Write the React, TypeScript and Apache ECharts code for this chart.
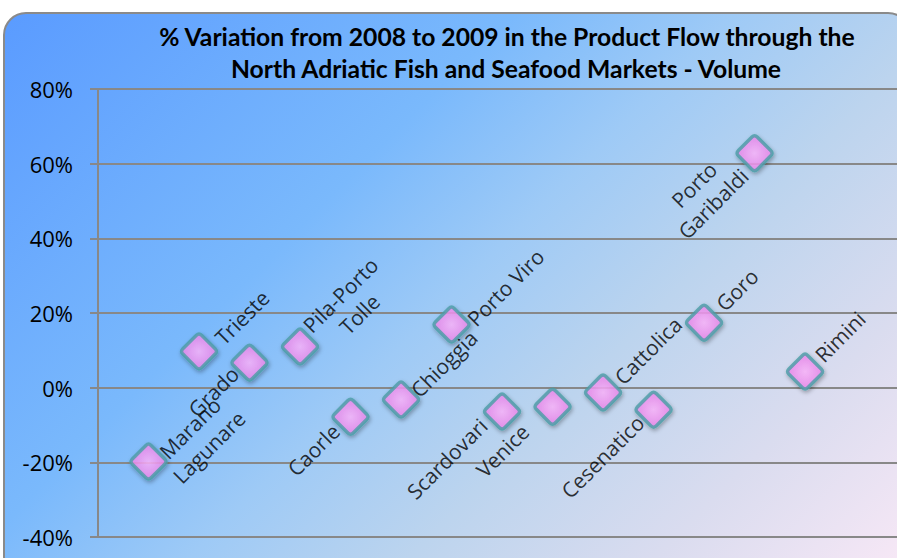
import React, { useEffect, useRef } from "react";
import * as echarts from "echarts";

// ---- data ----
const markets: string[] = [
  "Marano\nLagunare",
  "Trieste",
  "Grado",
  "Pila-Porto\nTolle",
  "Caorle",
  "Chioggia",
  "Porto Viro",
  "Scardovari",
  "Venice",
  "Cattolica",
  "Cesenatico",
  "Goro",
  "Porto\nGaribaldi",
  "Rimini",
];
const variationPct: number[] = [
  -19.8, 9.7, 6.7, 11.0, -7.8, -3.2, 16.9, -6.4, -5.1, -1.3, -5.9, 17.4, 62.8, 4.3,
];
const yMin = -40;
const yMax = 80;
const yInterval = 20;
const titleLines: string[] = [
  "% Variation from 2008 to 2009 in the Product Flow through the",
  "North Adriatic Fish and Seafood Markets - Volume",
];

// ---- label placement (screen px from marker centre to label block centre) ----
const labelNudges: [number, number][] = [
  [51, -24], [43, -34], [-36, 29], [50, -42], [-37, 33], [43, -36], [54, -37],
  [-55, 47], [-50, 44], [45, -42], [-51, 47], [33, -33], [-51, 41], [35, -35],
];

const DIAMOND =
  "path://M43,7 Q50,0 57,7 L93,43 Q100,50 93,57 L57,93 Q50,100 43,93 L7,57 Q0,50 7,43 Z";

export default function App() {
  const ref = useRef<HTMLDivElement>(null);

  useEffect(() => {
    if (!ref.current) return;
    const chart = echarts.init(ref.current, undefined, { renderer: "svg" });
    const s = Math.SQRT1_2;
    const data = variationPct.map((v, i) => {
      const [dx, dy] = labelNudges[i];
      const u = (dx - dy) * s;
      const w = (dx + dy) * s;
      return {
        name: markets[i],
        value: [i + 1, v],
        label: { offset: [u, w] },
      };
    });

    const titleStyle = {
      font: "bold 24.7px Lato",
      fill: "#000",
      align: "center",
      verticalAlign: "middle",
    };

    chart.setOption({
      animation: false,
      graphic: [
        {
          type: "rect",
          z: -100,
          silent: true,
          shape: { x: 4, y: 13, width: 906, height: 565, r: 22 },
          style: {
            fill: new echarts.graphic.LinearGradient(
              4, 13, 734, 743,
              [
                { offset: 0, color: "#5a9bff" },
                { offset: 0.35, color: "#7ab9fc" },
                { offset: 0.5, color: "#9ecaf6" },
                { offset: 0.65, color: "#bcd4ee" },
                { offset: 0.82, color: "#dadcef" },
                { offset: 1, color: "#f8e8f6" },
              ],
              true
            ),
            stroke: "#8a8a8a",
            lineWidth: 2,
          },
        },
        {
          type: "text",
          x: 507,
          y: 36,
          z: 10,
          style: { ...titleStyle, text: titleLines[0] },
        },
        {
          type: "text",
          x: 506,
          y: 68,
          z: 10,
          style: { ...titleStyle, text: titleLines[1] },
        },
      ],
      grid: { left: 98, top: 89, width: 799, height: 448, containLabel: false },
      xAxis: {
        type: "value",
        min: 0,
        max: 15.82,
        show: false,
      },
      yAxis: {
        type: "value",
        min: yMin,
        max: yMax,
        interval: yInterval,
        axisLine: { show: true, lineStyle: { color: "#888", width: 2 } },
        axisTick: { show: true, length: 8, lineStyle: { color: "#888", width: 2 } },
        splitLine: { show: true, lineStyle: { color: "#888", width: 2 } },
        axisLabel: {
          formatter: "{value}%",
          color: "#000",
          fontFamily: "Open Sans",
          fontSize: 22,
          margin: 25,
        },
      },
      series: [
        {
          type: "scatter",
          data,
          symbol: DIAMOND,
          symbolSize: 35,
          itemStyle: {
            color: new echarts.graphic.RadialGradient(0.5, 0.5, 0.6, [
              { offset: 0, color: "#ffb6ff" },
              { offset: 1, color: "#ea7cea" },
            ]),
            borderColor: "#4b9ea6",
            borderWidth: 3.5,
            shadowBlur: 4,
            shadowColor: "rgba(0,0,0,0.35)",
            shadowOffsetX: 1,
            shadowOffsetY: 2,
          },
          label: {
            show: true,
            position: "inside",
            rotate: 45,
            align: "center",
            verticalAlign: "middle",
            formatter: "{b}",
            color: "#000",
            fontFamily: "Open Sans",
            fontSize: 21,
            lineHeight: 27,
          },
          emphasis: { disabled: true },
        },
      ],
    });
    return () => chart.dispose();
  }, []);

  return (
    <div
      ref={ref}
      style={{ position: "fixed", left: 0, top: 0, width: 897, height: 558, background: "#fff" }}
    />
  );
}
